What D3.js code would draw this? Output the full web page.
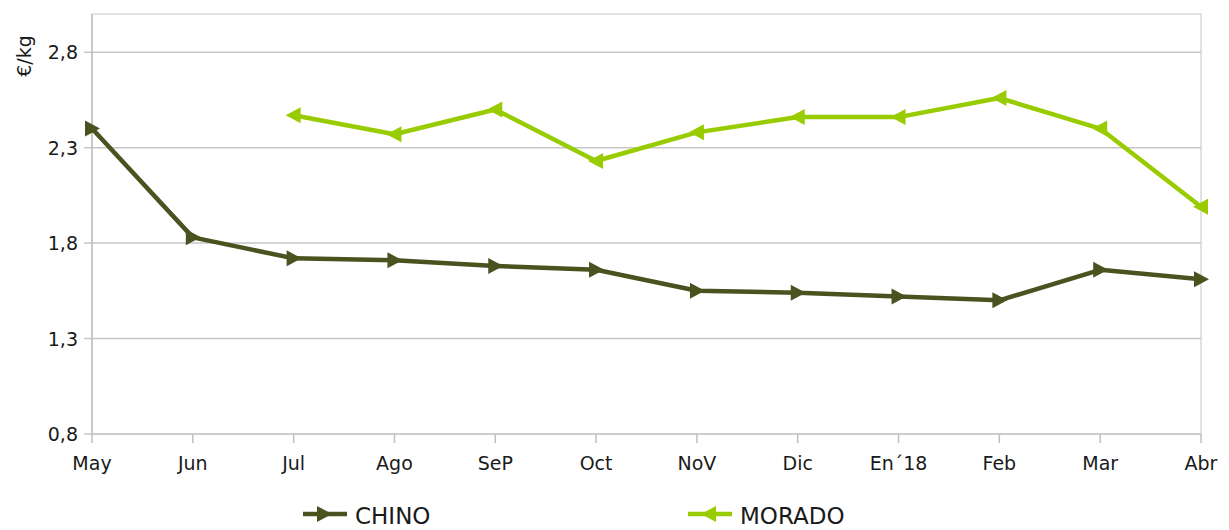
<!DOCTYPE html>
<meta charset="utf-8">

<!-- Load d3.js -->
<script src="https://d3js.org/d3.v7.min.js"></script>

<style>
  body { margin: 0; background: #fff; }
  text { font-family: "DejaVu Sans", sans-serif; fill: #1a1a1a; }
</style>

<svg id="my_dataviz" width="1229" height="530"></svg>

<script>

// Data
var months = ["May", "Jun", "Jul", "Ago", "SeP", "Oct", "NoV", "Dic", "En\u00b418", "Feb", "Mar", "Abr"];
var chino = [2.40, 1.83, 1.72, 1.71, 1.68, 1.66, 1.55, 1.54, 1.52, 1.50, 1.66, 1.61];
var morado = [null, null, 2.47, 2.37, 2.50, 2.23, 2.38, 2.46, 2.46, 2.56, 2.40, 1.99];
var yTicks = [0.8, 1.3, 1.8, 2.3, 2.8];

var svg = d3.select("svg");
var plotL = 92, plotR = 1201, plotT = 14, plotB = 434;

// Scales
var x = d3.scalePoint().domain(months).range([plotL, plotR]);
var y = d3.scaleLinear().domain([0.8, 3.0]).range([plotB, plotT]);

// plot area border
svg.append("rect")
  .attr("x", plotL).attr("y", plotT)
  .attr("width", plotR - plotL).attr("height", plotB - plotT)
  .attr("fill", "none")
  .attr("stroke", "#d9d9d9")
  .attr("stroke-width", 1.5);

// gridlines
svg.append("g")
  .selectAll("line")
  .data(yTicks)
  .enter()
  .append("line")
    .attr("x1", plotL - 8).attr("x2", plotR)
    .attr("y1", function(d) { return y(d); })
    .attr("y2", function(d) { return y(d); })
    .attr("stroke", "#c6c6c6")
    .attr("stroke-width", 1.5);

// y axis line
svg.append("line")
  .attr("x1", plotL).attr("x2", plotL)
  .attr("y1", plotT).attr("y2", plotB)
  .attr("stroke", "#bfbfbf")
  .attr("stroke-width", 1.5);

// y tick labels
svg.append("g")
  .selectAll("text")
  .data(yTicks)
  .enter()
  .append("text")
    .attr("x", 78)
    .attr("y", function(d) { return y(d) + 7; })
    .attr("text-anchor", "end")
    .style("font-size", "19px")
    .text(function(d) { return d3.format(".1f")(d).replace(".", ","); });

// x ticks and labels
svg.append("g")
  .selectAll("line")
  .data(months)
  .enter()
  .append("line")
    .attr("x1", function(d) { return x(d); })
    .attr("x2", function(d) { return x(d); })
    .attr("y1", plotB).attr("y2", plotB + 9)
    .attr("stroke", "#bfbfbf")
    .attr("stroke-width", 1.5);

svg.append("g")
  .selectAll("text")
  .data(months)
  .enter()
  .append("text")
    .attr("x", function(d) { return x(d); })
    .attr("y", 470)
    .attr("text-anchor", "middle")
    .style("font-size", "19px")
    .text(function(d) { return d; });

// y axis title
svg.append("text")
  .attr("transform", "translate(31,56) rotate(-90)")
  .attr("text-anchor", "middle")
  .style("font-size", "19px")
  .text("\u20ac/kg");

// Series
var series = [
  { name: "CHINO", values: chino, color: "#4a5220", dir: 1, lx: 303 },
  { name: "MORADO", values: morado, color: "#99cc00", dir: -1, lx: 688 }
];

function tri(dir) {
  // triangle pointing right (dir 1) or left (dir -1)
  return "M" + (-7 * dir) + ",-8L" + (8 * dir) + ",0L" + (-7 * dir) + ",8Z";
}

series.forEach(function(s) {
  var pts = s.values.map(function(v, i) { return { m: months[i], v: v }; })
    .filter(function(d) { return d.v != null; });

  var line = d3.line()
    .x(function(d) { return x(d.m); })
    .y(function(d) { return y(d.v); });

  svg.append("path")
    .datum(pts)
    .attr("d", line)
    .attr("fill", "none")
    .attr("stroke", s.color)
    .attr("stroke-width", 4.5)
    .attr("stroke-linejoin", "round");

  svg.append("g")
    .selectAll("path")
    .data(pts)
    .enter()
    .append("path")
      .attr("transform", function(d) { return "translate(" + x(d.m) + "," + y(d.v) + ")"; })
      .attr("d", tri(s.dir))
      .attr("fill", s.color);

  // legend
  var lg = svg.append("g").attr("transform", "translate(" + s.lx + ",514)");
  lg.append("line")
    .attr("x1", 0).attr("x2", 44)
    .attr("stroke", s.color)
    .attr("stroke-width", 4.5);
  lg.append("path")
    .attr("transform", "translate(21,0)")
    .attr("d", tri(s.dir))
    .attr("fill", s.color);
  lg.append("text")
    .attr("x", 52)
    .attr("y", 10)
    .style("font-size", "23px")
    .text(s.name);
});

</script>
